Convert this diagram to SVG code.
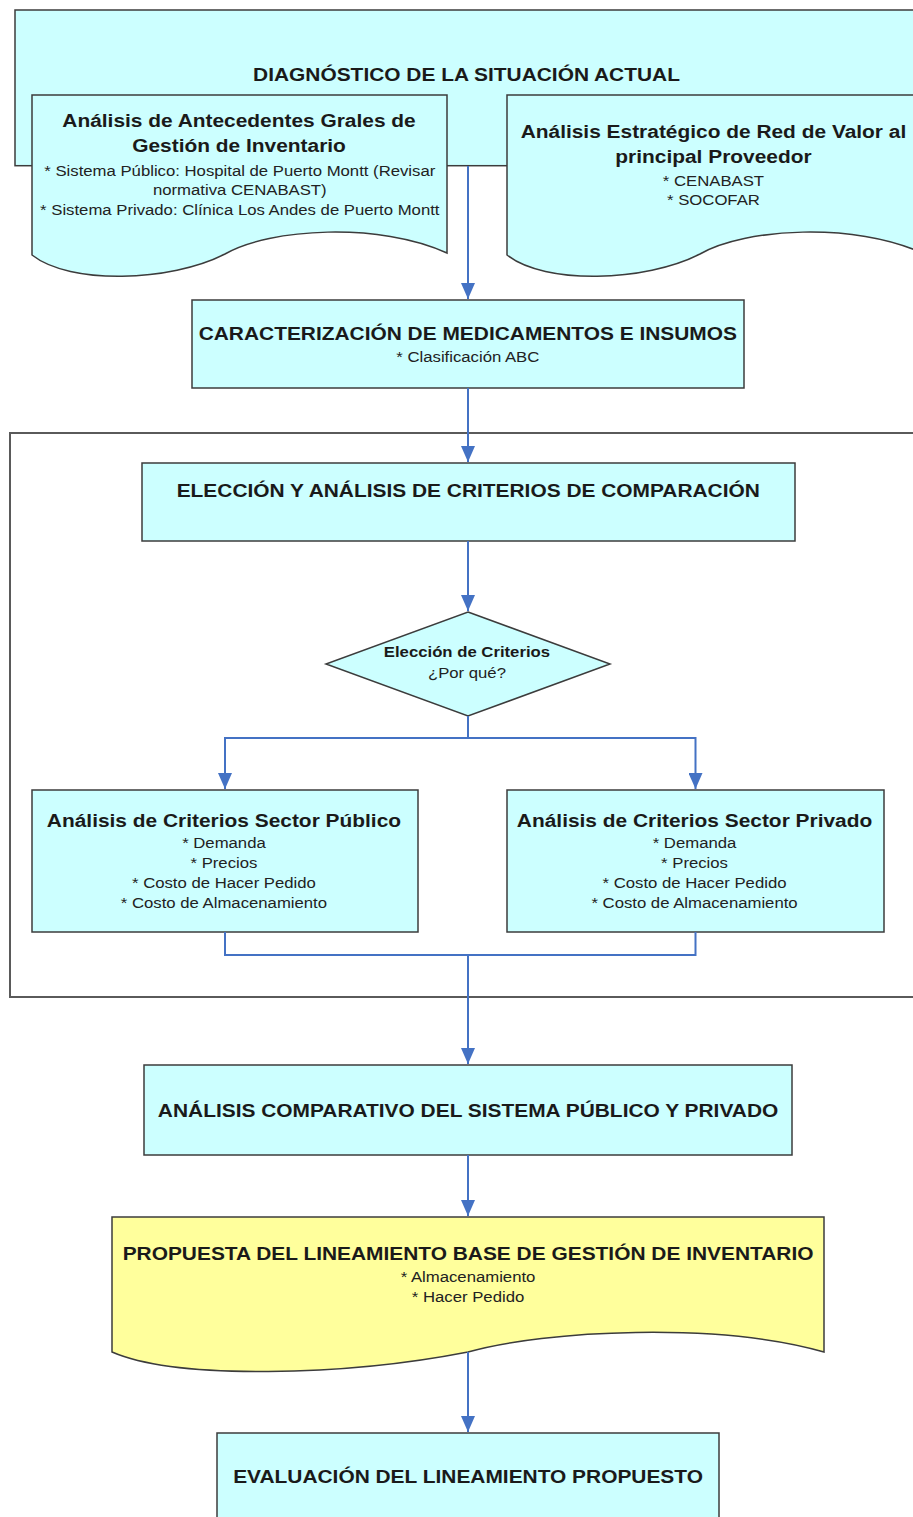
<svg xmlns="http://www.w3.org/2000/svg" width="913" height="1517" viewBox="0 0 913 1517">
  <defs>
    <style>
      .box { fill: #ccffff; stroke: #3c3c3c; stroke-width: 1.5; }
      .note { fill: #ffff9c; stroke: #3c3c3c; stroke-width: 1.5; }
      .frame { fill: none; stroke: #5a5a5a; stroke-width: 2; }
      .link { fill: none; stroke: #4472c4; stroke-width: 2; }
      .h { font-family: "Liberation Sans", Arial, sans-serif; font-weight: bold; font-size: 19px; fill: #1a1a1a; text-anchor: middle; }
      .hs { font-family: "Liberation Sans", Arial, sans-serif; font-weight: bold; font-size: 15.2px; fill: #1a1a1a; text-anchor: middle; }
      .t { font-family: "Liberation Sans", Arial, sans-serif; font-size: 15.2px; fill: #222222; text-anchor: middle; }
    </style>
    <marker id="arrow" viewBox="0 0 16 14" refX="16" refY="7" markerWidth="16" markerHeight="14" markerUnits="userSpaceOnUse" orient="auto">
      <path d="M0,0 L16,7 L0,14 Z" fill="#4472c4"/>
    </marker>
  </defs>

  <!-- outer frame around the criteria stage -->
  <rect id="frame-criterios" class="frame" x="10" y="433" width="930" height="564"/>

  <!-- stage 1: diagnosis -->
  <g id="n-diagnostico">
    <rect class="box" x="15" y="10" width="920" height="155.7"/>
    <g transform="scale(1.1 1)">
      <text class="h" x="424.1" y="81">DIAGNÓSTICO DE LA SITUACIÓN ACTUAL</text>
    </g>
  </g>

  <g id="n-antecedentes">
    <path class="box" d="M32,95 H447 V253 C380,222 270,228 225,254 C170,282 70,285 32,255 Z"/>
    <g transform="scale(1.1 1)">
      <text class="h" x="217.3" y="127.5">Análisis de Antecedentes Grales de</text>
      <text class="h" x="217.3" y="152.5">Gestión de Inventario</text>
      <text class="t" x="218" y="176">* Sistema Público: Hospital de Puerto Montt (Revisar</text>
      <text class="t" x="218" y="195.5">normativa CENABAST)</text>
      <text class="t" x="218" y="215">* Sistema Privado: Clínica Los Andes de Puerto Montt</text>
    </g>
  </g>

  <g id="n-red-valor">
    <path class="box" d="M507,95 H922 V253 C855,222 745,228 700,254 C645,282 545,285 507,255 Z"/>
    <g transform="scale(1.1 1)">
      <text class="h" x="648.6" y="138">Análisis Estratégico de Red de Valor al</text>
      <text class="h" x="648.6" y="163">principal Proveedor</text>
      <text class="t" x="648.6" y="186">* CENABAST</text>
      <text class="t" x="648.6" y="205.5">* SOCOFAR</text>
    </g>
  </g>

  <!-- stage 2 -->
  <g id="n-caracterizacion">
    <rect class="box" x="192" y="300" width="552" height="88"/>
    <g transform="scale(1.1 1)">
      <text class="h" x="425.3" y="340">CARACTERIZACIÓN DE MEDICAMENTOS E INSUMOS</text>
      <text class="t" x="425.3" y="361.7">* Clasificación ABC</text>
    </g>
  </g>

  <!-- stage 3: criteria -->
  <g id="n-eleccion">
    <rect class="box" x="142" y="463" width="653" height="78"/>
    <g transform="scale(1.1 1)">
      <text class="h" x="425.7" y="497">ELECCIÓN Y ANÁLISIS DE CRITERIOS DE COMPARACIÓN</text>
    </g>
  </g>

  <g id="n-decision">
    <path class="box" d="M468,612 L610,664 L468,716 L326,664 Z"/>
    <g transform="scale(1.1 1)">
      <text class="hs" x="424.5" y="657">Elección de Criterios</text>
      <text class="t" x="424.5" y="678">¿Por qué?</text>
    </g>
  </g>

  <g id="n-sector-publico">
    <rect class="box" x="32" y="790" width="386" height="142"/>
    <g transform="scale(1.1 1)">
      <text class="h" x="203.6" y="826.7">Análisis de Criterios Sector Público</text>
      <text class="t" x="203.6" y="848.3">* Demanda</text>
      <text class="t" x="203.6" y="868.3">* Precios</text>
      <text class="t" x="203.6" y="888.3">* Costo de Hacer Pedido</text>
      <text class="t" x="203.6" y="908.3">* Costo de Almacenamiento</text>
    </g>
  </g>

  <g id="n-sector-privado">
    <rect class="box" x="507" y="790" width="377" height="142"/>
    <g transform="scale(1.1 1)">
      <text class="h" x="631.4" y="826.7">Análisis de Criterios Sector Privado</text>
      <text class="t" x="631.4" y="848.3">* Demanda</text>
      <text class="t" x="631.4" y="868.3">* Precios</text>
      <text class="t" x="631.4" y="888.3">* Costo de Hacer Pedido</text>
      <text class="t" x="631.4" y="908.3">* Costo de Almacenamiento</text>
    </g>
  </g>

  <!-- stage 4 -->
  <g id="n-comparativo">
    <rect class="box" x="144" y="1065" width="648" height="90"/>
    <g transform="scale(1.1 1)">
      <text class="h" x="425.5" y="1116.7">ANÁLISIS COMPARATIVO DEL SISTEMA PÚBLICO Y PRIVADO</text>
    </g>
  </g>

  <g id="n-propuesta">
    <path class="note" d="M112,1217 H824 V1352 C720,1322 545,1330 468,1352 C345,1376 177,1380 112,1352 Z"/>
    <g transform="scale(1.1 1)">
      <text class="h" x="425.5" y="1260">PROPUESTA DEL LINEAMIENTO BASE DE GESTIÓN DE INVENTARIO</text>
      <text class="t" x="425.5" y="1281.7">* Almacenamiento</text>
      <text class="t" x="425.5" y="1301.7">* Hacer Pedido</text>
    </g>
  </g>

  <g id="n-evaluacion">
    <rect class="box" x="217" y="1433" width="502" height="100"/>
    <g transform="scale(1.1 1)">
      <text class="h" x="425.5" y="1483">EVALUACIÓN DEL LINEAMIENTO PROPUESTO</text>
    </g>
  </g>

  <!-- connectors -->
  <g id="connectors">
    <path class="link" d="M468,166 V299" marker-end="url(#arrow)"/>
    <path class="link" d="M468,388 V462" marker-end="url(#arrow)"/>
    <path class="link" d="M468,541 V611" marker-end="url(#arrow)"/>
    <path class="link" d="M468,716 V738 H225 V789" marker-end="url(#arrow)"/>
    <path class="link" d="M468,738 H695.5 V789" marker-end="url(#arrow)"/>
    <path class="link" d="M225,932 V955 H695.5 V932"/>
    <path class="link" d="M468,955 V1064" marker-end="url(#arrow)"/>
    <path class="link" d="M468,1155 V1216" marker-end="url(#arrow)"/>
    <path class="link" d="M468,1352 V1432" marker-end="url(#arrow)"/>
  </g>
</svg>
